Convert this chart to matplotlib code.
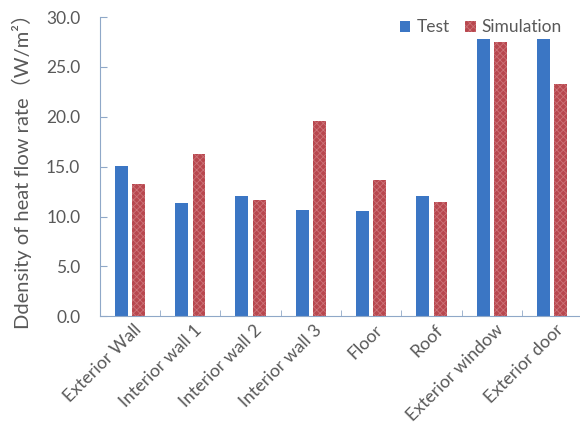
import matplotlib
matplotlib.use("Agg")
import matplotlib.pyplot as plt
import numpy as np

categories = ["Exterior Wall", "Interior wall 1", "Interior wall 2", "Interior wall 3",
              "Floor", "Roof", "Exterior window", "Exterior door"]
test = [15.1, 11.4, 12.1, 10.7, 10.6, 12.1, 27.8, 27.8]
simulation = [13.3, 16.3, 11.7, 19.6, 13.7, 11.5, 27.5, 23.3]
yticks = [0, 5, 10, 15, 20, 25, 30]

plt.rcParams['font.family'] = ['Lato', 'Noto Sans CJK SC', 'DejaVu Sans']
plt.rcParams['hatch.linewidth'] = 0.6

fig = plt.figure(figsize=(5.8, 4.29), dpi=100)
ax = fig.add_axes([0.172, 0.263, 0.832, 0.697])

x = np.arange(len(categories))
w = 0.215
gap = 0.075
ax.bar(x - (w + gap) / 2, test, width=w, color='#3B76C4', label='Test', linewidth=0)
ax.bar(x + (w + gap) / 2, simulation, width=w, color='#B8474E', label='Simulation',
       hatch='xxxxx', edgecolor='#CC7378', linewidth=0)

ax.set_xlim(-0.5, len(categories) - 0.5)
ax.set_ylim(0, 30)
ax.set_yticks(yticks)
ax.set_yticklabels([f"{v:.1f}" for v in yticks])
ax.set_xticks(x + 0.05)
ax.set_xticklabels(categories, rotation=45, ha='right', rotation_mode='anchor')
ax.set_xticks(np.arange(-0.5, len(categories), 1), minor=True)

for s in ['top', 'right']:
    ax.spines[s].set_visible(False)
ax.spines['left'].set_color('#8FA8C8')
ax.spines['bottom'].set_color('#8FA8C8')

ax.tick_params(axis='y', direction='in', length=5, color='#8FA8C8', labelsize=12.5,
               labelcolor='#595959', pad=14)
ax.tick_params(axis='x', which='major', length=0, labelsize=12.8, labelcolor='#595959', pad=4)
ax.tick_params(axis='x', which='minor', direction='in', length=4, color='#8FA8C8')

ax.set_ylabel("Ddensity of heat flow rate（W/m²）", fontsize=14.5, color='#595959', labelpad=10)

leg = ax.legend(loc='upper right', bbox_to_anchor=(0.99, 1.045), ncol=2, frameon=False,
                fontsize=12.5, handlelength=0.6, handleheight=0.6, handletextpad=0.35,
                columnspacing=0.9, labelcolor='#595959')

fig.savefig("out.png", dpi=100)
